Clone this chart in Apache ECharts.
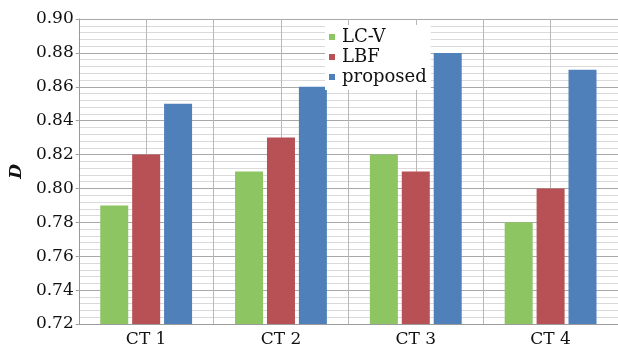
<!DOCTYPE html>
<html>
<head>
<meta charset="utf-8">
<script src="https://cdn.jsdelivr.net/npm/echarts@6/dist/echarts.min.js"></script>
<style>
  html, body { margin: 0; padding: 0; background: #fff; }
  #chart { width: 618px; height: 348px; }
</style>
</head>
<body>
<div id="chart"></div>
<script>
// data
var categories = ['CT 1', 'CT 2', 'CT 3', 'CT 4'];
var lcv = [0.79, 0.81, 0.82, 0.78];
var lbf = [0.82, 0.83, 0.81, 0.80];
var proposed = [0.85, 0.86, 0.88, 0.87];

var serif = '"DejaVu Serif", serif';
var chart = echarts.init(document.getElementById('chart'));

chart.setOption({
    backgroundColor: '#fff',
    animation: false,
    textStyle: { fontFamily: serif },
    grid: { left: 72, top: 19, width: 549, height: 308 },
    legend: {
        orient: 'vertical',
        left: 325,
        top: 25,
        padding: [3, 4, 4, 4],
        backgroundColor: '#fff',
        itemWidth: 6,
        itemHeight: 6,
        itemGap: 2,
        icon: 'rect',
        textStyle: { fontFamily: serif, fontSize: 18, color: '#111', padding: [0, 0, 0, 2] },
        data: ['LC-V', 'LBF', 'proposed']
    },
    xAxis: [{
        type: 'category',
        data: categories,
        axisLine: { lineStyle: { color: '#9a9a9a' } },
        axisTick: { show: false },
        axisLabel: { fontFamily: serif, fontSize: 17, color: '#111', margin: 7 },
        splitLine: { show: true, lineStyle: { color: '#a4a4a4', width: 1 } }
    }, {
        type: 'value',
        min: 0,
        max: 8,
        interval: 1,
        show: true,
        axisLine: { show: false },
        axisTick: { show: false },
        axisLabel: { show: false },
        splitLine: { show: true, lineStyle: { color: '#b8b8b8', width: 1 } }
    }],
    yAxis: {
        type: 'value',
        min: 0.72,
        max: 0.90,
        interval: 0.02,
        name: 'D',
        nameLocation: 'middle',
        nameGap: 45,
        nameTextStyle: { fontFamily: serif, fontSize: 17, fontStyle: 'italic', fontWeight: 'bold', color: '#111' },
        axisLine: { show: true, lineStyle: { color: '#9a9a9a' } },
        axisTick: { show: true, length: 3, lineStyle: { color: '#9a9a9a' } },
        axisLabel: {
            fontFamily: serif, fontSize: 17, color: '#111', margin: 5,
            formatter: function (v) { return v.toFixed(2); }
        },
        splitLine: { show: true, lineStyle: { color: '#a8a8a8', width: 1 } },
        minorTick: { show: false, splitNumber: 5 },
        minorSplitLine: { show: true, lineStyle: { color: '#dadada', width: 1 } }
    },
    series: [{
        name: 'LC-V',
        type: 'bar',
        data: lcv,
        barWidth: 28,
        barGap: '14%',
        itemStyle: { color: '#8cc562' }
    }, {
        name: 'LBF',
        type: 'bar',
        data: lbf,
        barWidth: 28,
        barGap: '14%',
        itemStyle: { color: '#b85156' }
    }, {
        name: 'proposed',
        type: 'bar',
        data: proposed,
        barWidth: 28,
        barGap: '14%',
        itemStyle: { color: '#4f80b9' }
    }]
});
</script>
</body>
</html>
